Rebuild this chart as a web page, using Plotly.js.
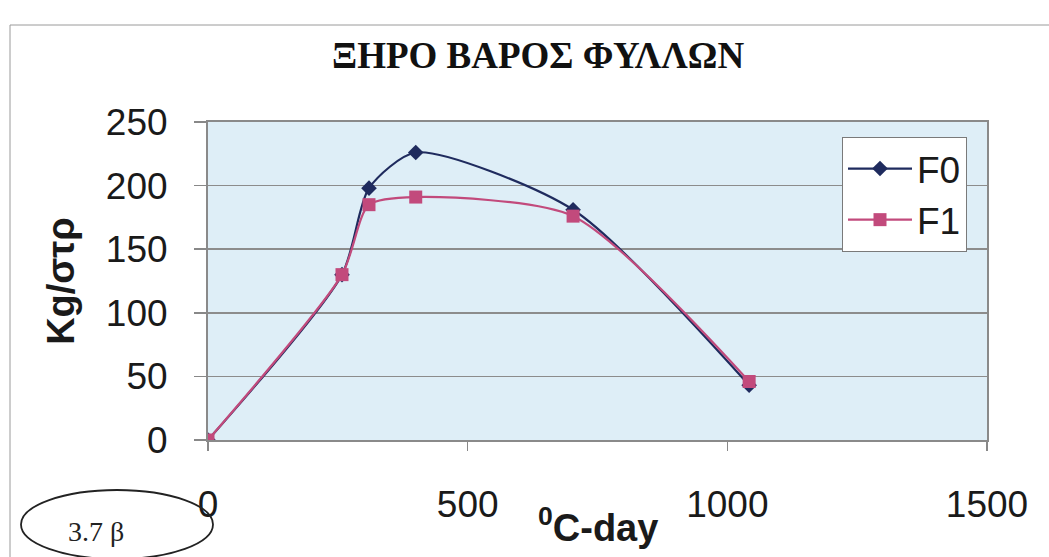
<!DOCTYPE html>
<html>
<head>
<meta charset="utf-8">
<script src="https://cdn.plot.ly/plotly-3.0.1.min.js"></script>
<style>
  html, body { margin: 0; padding: 0; background: #ffffff; }
  #chart { width: 1049px; height: 557px; }
</style>
</head>
<body>
<div id="chart"></div>
<script>
// Leaf dry weight against accumulated degree-days
const degreeDays = [0, 258, 310, 400, 703, 1042];
const weightF0 = [0, 130, 198, 226, 181, 43];
const weightF1 = [0, 130, 185, 191, 176, 46];
const seriesNames = ['F0', 'F1'];
const xTicks = [0, 500, 1000, 1500];
const yTicks = [0, 50, 100, 150, 200, 250];

const W = 1049, H = 557;
const M = { l: 208, r: 62, t: 122, b: 117 };
const plotW = W - M.l - M.r, plotH = H - M.t - M.b;
// pixel -> paper coordinates for decorations outside the plot area
const px = x => (x - M.l) / plotW;
const py = y => (H - M.b - y) / plotH;

const tickFont = { family: 'Liberation Sans, Arial, sans-serif', size: 37, color: '#1a1a1a' };

const traces = [
  {
    x: degreeDays, y: weightF0, name: seriesNames[0], type: 'scatter', mode: 'lines+markers',
    line: { color: '#1f2b5e', width: 2.2, shape: 'spline', smoothing: 0.7 },
    marker: { symbol: 'diamond', size: 12, color: '#1f2b5e' }
  },
  {
    x: degreeDays, y: weightF1, name: seriesNames[1], type: 'scatter', mode: 'lines+markers',
    line: { color: '#c24a7c', width: 2.2, shape: 'spline', smoothing: 0.7 },
    marker: { symbol: 'square', size: 13, color: '#c24a7c' }
  }
];

const layout = {
  width: W, height: H,
  margin: M,
  paper_bgcolor: '#ffffff',
  plot_bgcolor: '#deeef7',
  showlegend: true,
  title: {
    text: '<b>ΞΗΡΟ ΒΑΡΟΣ ΦΥΛΛΩΝ</b>',
    font: { family: 'Liberation Serif, Times New Roman, serif', size: 37, color: '#111111' },
    x: 0.513, xanchor: 'center', y: 1 - 55 / H, yanchor: 'middle'
  },
  xaxis: {
    range: [0, 1500], tickvals: xTicks, ticktext: xTicks.map(String),
    ticks: 'outside', ticklen: 9, tickcolor: '#888888', tickwidth: 1.5,
    ticklabelstandoff: 22,
    tickfont: tickFont,
    showgrid: false, zeroline: false,
    showline: true, linecolor: '#8a8a8a', linewidth: 2, mirror: true,
    fixedrange: true
  },
  yaxis: {
    range: [0, 250], tickvals: yTicks, ticktext: yTicks.map(String),
    ticks: 'outside', ticklen: 12, tickcolor: '#888888', tickwidth: 1.5,
    ticklabelstandoff: 19,
    tickfont: tickFont,
    showgrid: true, gridcolor: '#8c8c8c', gridwidth: 1.6,
    zeroline: false,
    showline: true, linecolor: '#8a8a8a', linewidth: 2, mirror: true,
    title: {
      text: '<b>Kg/στρ</b>',
      font: { family: 'Liberation Sans, Arial, sans-serif', size: 38, color: '#1a1a1a' },
      standoff: 20
    },
    fixedrange: true
  },
  legend: {
    x: px(842), y: py(137), xanchor: 'left', yanchor: 'top',
    bgcolor: '#ffffff', bordercolor: '#7a7a7a', borderwidth: 1,
    font: { family: 'Liberation Sans, Arial, sans-serif', size: 37, color: '#1a1a1a' },
    tracegroupgap: 0, itemwidth: 64
  },
  annotations: [
    {
      xref: 'paper', yref: 'paper', x: px(598), y: py(525),
      xanchor: 'center', yanchor: 'middle', showarrow: false,
      text: '<b><sup>0</sup>C-day</b>',
      font: { family: 'Liberation Sans, Arial, sans-serif', size: 38, color: '#1a1a1a' }
    },
    {
      xref: 'paper', yref: 'paper', x: px(96), y: py(531),
      xanchor: 'center', yanchor: 'middle', showarrow: false,
      text: '3.7 β',
      font: { family: 'Liberation Serif, Times New Roman, serif', size: 28, color: '#222222' }
    }
  ],
  shapes: [
    // thin page frame
    {
      type: 'rect', xref: 'paper', yref: 'paper', layer: 'below',
      x0: px(10), x1: px(1080), y0: py(25), y1: py(600),
      line: { color: '#9a9a9a', width: 1 }
    },
    // figure label ellipse
    {
      type: 'circle', xref: 'paper', yref: 'paper',
      x0: px(21), x1: px(213), y0: py(490), y1: py(559),
      line: { color: '#222222', width: 1.8 }
    }
  ]
};

Plotly.newPlot('chart', traces, layout, { displayModeBar: false, staticPlot: true });
</script>
</body>
</html>
